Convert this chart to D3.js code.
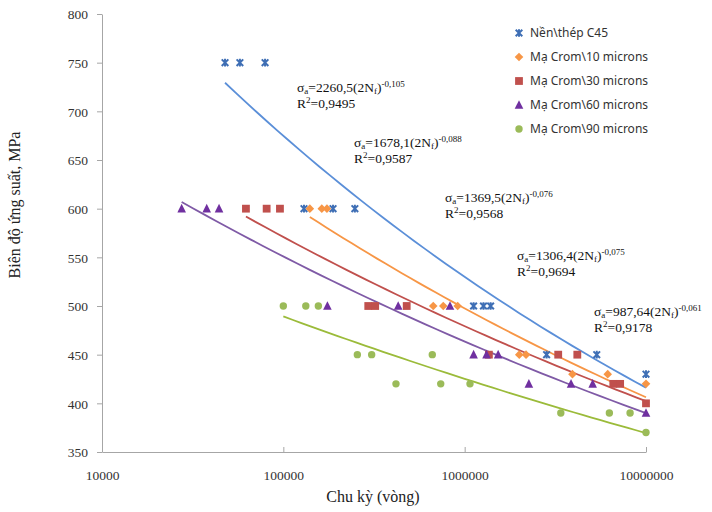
<!DOCTYPE html>
<html>
<head>
<meta charset="utf-8">
<script src="https://cdn.jsdelivr.net/npm/d3@7/dist/d3.min.js"></script>
<style>
  body { margin: 0; background: #fff; }
  svg { display: block; }
</style>
</head>
<body>
<svg id="chart" width="712" height="512"></svg>
<script>
// series names, colors and marker shapes
var names = ['Nền\\thép C45', 'Mạ Crom\\10 microns', 'Mạ Crom\\30 microns', 'Mạ Crom\\60 microns', 'Mạ Crom\\90 microns']

// cycles (N) and stress amplitude (MPa)
var cyclesC45 = [47700, 57600, 79300, 130000, 188000, 248000, 1120000, 1270000, 1390000, 2830000, 5350000, 10000000]
var stressC45 = [750, 750, 750, 600, 600, 600, 500, 500, 500, 450, 450, 430]

var cycles10 = [140000, 163000, 174000, 671000, 762000, 915000, 2000000, 2180000, 3930000, 6150000, 10000000]
var stress10 = [600, 600, 600, 500, 500, 500, 450, 450, 430, 430, 420]

var cycles30 = [62200, 80900, 95800, 294000, 321000, 479000, 1360000, 3280000, 4180000, 6600000, 7200000, 10000000]
var stress30 = [600, 600, 600, 500, 500, 500, 450, 450, 450, 420, 420, 400]

var cycles60 = [27500, 37800, 44200, 175000, 430000, 830000, 1120000, 1320000, 1530000, 2260000, 3860000, 5080000, 10000000]
var stress60 = [600, 600, 600, 500, 500, 500, 450, 450, 450, 420, 420, 420, 390]

var cycles90 = [100000, 133000, 156000, 256000, 307000, 418000, 663000, 738000, 1070000, 3390000, 6280000, 8170000, 10000000]
var stress90 = [500, 500, 500, 450, 450, 420, 450, 420, 420, 390, 390, 390, 370]

// power trendlines sigma = a * N^b as printed on the chart
var fitA = [2260.5, 1678.1, 1369.5, 1306.4, 987.64]
var fitB = [-0.105, -0.088, -0.076, -0.075, -0.061]
var fitCoef = ['2260,5', '1678,1', '1369,5', '1306,4', '987,64']
var fitExp = ['-0,105', '-0,088', '-0,076', '-0,075', '-0,061']
var fitR2 = ['0,9495', '0,9587', '0,9568', '0,9694', '0,9178']

var yTicks = [350, 400, 450, 500, 550, 600, 650, 700, 750, 800]
var xTicks = [10000, 100000, 1000000, 10000000]

var markerColors = ['#3f6fb5', '#f79646', '#c0504d', '#7030a0', '#9bbb59']
var lineColors = ['#5b8fd8', '#f79646', '#c0504d', '#7f5aa6', '#9bbb3a']
var shapes = ['star', 'diamond', 'square', 'triangle', 'circle']

var series = [
  [cyclesC45, stressC45],
  [cycles10, stress10],
  [cycles30, stress30],
  [cycles60, stress60],
  [cycles90, stress90]
]

var svg = d3.select('#chart')

var x = d3.scaleLog().domain([10000, 10000000]).range([102, 646])
var y = d3.scaleLinear().domain([350, 800]).range([452, 14])

// axes
var yAxis = svg.append('g')
  .attr('transform', 'translate(102,0)')
  .call(d3.axisLeft(y).tickValues(yTicks).tickSizeInner(5).tickSizeOuter(0).tickPadding(9))
var xAxis = svg.append('g')
  .attr('transform', 'translate(0,452)')
  .call(d3.axisBottom(x).tickValues(xTicks).tickFormat(d3.format('d')).tickSizeInner(-5).tickSizeOuter(0).tickPadding(12))

svg.selectAll('.domain, .tick line').attr('stroke', '#a6a6a6')
svg.selectAll('.tick text')
  .attr('fill', '#333')
  .style('font-family', '"Liberation Serif", "Times New Roman", serif')
  .style('font-size', '13.5px')
yAxis.selectAll('.tick text').attr('dy', '0.35em')
xAxis.selectAll('.tick text').attr('y', 18)

// axis titles
svg.append('text')
  .attr('transform', 'translate(20,205) rotate(-90)')
  .attr('text-anchor', 'middle')
  .style('font-family', '"Liberation Serif", serif')
  .style('font-size', '16px')
  .attr('fill', '#222')
  .text('Biên độ ứng suất, MPa')

svg.append('text')
  .attr('x', 373).attr('y', 502)
  .attr('text-anchor', 'middle')
  .style('font-family', '"Liberation Serif", serif')
  .style('font-size', '16px')
  .attr('fill', '#222')
  .text('Chu kỳ (vòng)')

// trendlines
var line = d3.line()
  .x(function(d) { return x(d[0]) })
  .y(function(d) { return y(d[1]) })

series.forEach(function(s, i) {
  var lo = d3.min(s[0]), hi = d3.max(s[0])
  var pts = d3.range(41).map(function(k) {
    var n = Math.pow(10, Math.log10(lo) + (Math.log10(hi) - Math.log10(lo)) * k / 40)
    return [n, fitA[i] * Math.pow(n, fitB[i])]
  })
  svg.append('path')
    .datum(pts)
    .attr('d', line)
    .attr('fill', 'none')
    .attr('stroke', lineColors[i])
    .attr('stroke-width', 1.8)
})

// markers
function drawMarker(g, shape, color, cx, cy) {
  var r
  if (shape == 'star') {
    r = 3.3
    g.append('path')
      .attr('d', 'M' + (cx - r) + ',' + (cy - r) + 'L' + (cx + r) + ',' + (cy + r) +
        'M' + (cx - r) + ',' + (cy + r) + 'L' + (cx + r) + ',' + (cy - r) +
        'M' + cx + ',' + (cy - r - 0.5) + 'L' + cx + ',' + (cy + r + 0.5))
      .attr('stroke', color).attr('stroke-width', 2).attr('fill', 'none')
  } else if (shape == 'diamond') {
    r = 4.3
    g.append('path')
      .attr('d', 'M' + cx + ',' + (cy - r) + 'L' + (cx + r) + ',' + cy + 'L' + cx + ',' + (cy + r) + 'L' + (cx - r) + ',' + cy + 'Z')
      .attr('fill', color)
  } else if (shape == 'square') {
    r = 3.9
    g.append('rect')
      .attr('x', cx - r).attr('y', cy - r).attr('width', 2 * r).attr('height', 2 * r)
      .attr('fill', color)
  } else if (shape == 'triangle') {
    r = 4.3
    g.append('path')
      .attr('d', 'M' + cx + ',' + (cy - r - 0.5) + 'L' + (cx + r) + ',' + (cy + r - 0.5) + 'L' + (cx - r) + ',' + (cy + r - 0.5) + 'Z')
      .attr('fill', color)
  } else {
    g.append('circle')
      .attr('cx', cx).attr('cy', cy).attr('r', 3.7)
      .attr('fill', color)
  }
}

series.forEach(function(s, i) {
  var g = svg.append('g')
  s[0].forEach(function(n, k) {
    drawMarker(g, shapes[i], markerColors[i], x(n), y(s[1][k]))
  })
})

// equation labels: one text element per trendline, two lines
var eqPos = [[297, 92], [354, 147], [445, 202], [517, 260], [594, 316]]
fitCoef.forEach(function(c, i) {
  var t = svg.append('text')
    .attr('x', eqPos[i][0]).attr('y', eqPos[i][1])
    .style('font-family', '"Liberation Serif", serif')
    .style('font-size', '13.5px')
    .attr('fill', '#111')
  t.append('tspan').text('σ')
  t.append('tspan').attr('dy', 1.5).style('font-size', '9px').text('a')
  t.append('tspan').attr('dy', -1.5).text('=' + c + '(2N')
  t.append('tspan').attr('dy', 1.5).style('font-size', '9px').text('f')
  t.append('tspan').attr('dy', -1.5).text(')')
  t.append('tspan').attr('dy', -5).style('font-size', '9px').text(fitExp[i])

  t.append('tspan').attr('x', eqPos[i][0]).attr('y', eqPos[i][1] + 16).text('R')
  t.append('tspan').attr('dy', -5).style('font-size', '9px').text('2')
  t.append('tspan').attr('dy', 5).text('=' + fitR2[i])
})

// legend
var legend = svg.append('g')
names.forEach(function(nm, i) {
  var cy = 33 + i * 24
  drawMarker(legend, shapes[i], markerColors[i], 519, cy)
  legend.append('text')
    .attr('x', 530).attr('y', cy)
    .attr('dy', '0.35em')
    .style('font-family', '"Noto Sans", sans-serif')
    .style('font-size', '12px')
    .attr('fill', '#333')
    .text(nm)
})
</script>
</body>
</html>
